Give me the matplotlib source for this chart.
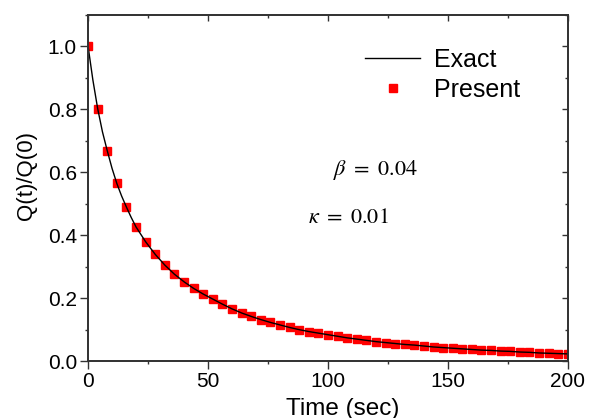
import matplotlib
matplotlib.use("Agg")
import matplotlib.pyplot as plt
from matplotlib.ticker import MultipleLocator, NullFormatter, FormatStrFormatter

plt.rcParams['font.family'] = ['Liberation Sans', 'DejaVu Sans']
plt.rcParams['mathtext.fontset'] = 'stix'

# exact solution, read at a finer step near t = 0
t_exact = [0, 2, 4, 6, 8, 10, 12, 14, 16, 18, 20, 24, 28, 32, 36, 40, 44, 48,
           52, 56, 60, 64, 68, 72, 76, 80, 84, 88, 92, 96, 100, 104, 108, 112,
           116, 120, 124, 128, 132, 136, 140, 144, 148, 152, 156, 160, 164,
           168, 172, 176, 180, 184, 188, 192, 196, 200]
q_exact = [1.000, 0.893, 0.802, 0.728, 0.668, 0.612, 0.564, 0.524, 0.489,
           0.456, 0.426, 0.379, 0.339, 0.305, 0.276, 0.252, 0.231, 0.213,
           0.197, 0.181, 0.166, 0.153, 0.142, 0.132, 0.123, 0.115, 0.107,
           0.100, 0.094, 0.089, 0.084, 0.079, 0.074, 0.070, 0.066, 0.062,
           0.059, 0.056, 0.053, 0.051, 0.048, 0.045, 0.043, 0.041, 0.039,
           0.037, 0.035, 0.034, 0.032, 0.031, 0.029, 0.028, 0.026, 0.025,
           0.024, 0.023]

# present method, every 4 s
t_present = [0, 4, 8, 12, 16, 20, 24, 28, 32, 36, 40, 44, 48, 52, 56, 60, 64,
             68, 72, 76, 80, 84, 88, 92, 96, 100, 104, 108, 112, 116, 120, 124,
             128, 132, 136, 140, 144, 148, 152, 156, 160, 164, 168, 172, 176,
             180, 184, 188, 192, 196, 200]
q_present = [1.000, 0.802, 0.668, 0.564, 0.489, 0.426, 0.379, 0.339, 0.305,
             0.276, 0.252, 0.231, 0.213, 0.197, 0.181, 0.166, 0.153, 0.142,
             0.132, 0.123, 0.115, 0.107, 0.100, 0.094, 0.089, 0.084, 0.079,
             0.074, 0.070, 0.066, 0.062, 0.059, 0.056, 0.053, 0.051, 0.048,
             0.045, 0.043, 0.041, 0.039, 0.037, 0.035, 0.034, 0.032, 0.031,
             0.029, 0.028, 0.026, 0.025, 0.024, 0.023]

spine_col = '#333333'

fig = plt.figure(figsize=(5.99, 4.18), dpi=100)
ax = fig.add_axes([0.147, 0.136, 0.801, 0.829])

ax.plot(t_exact, q_exact, color='black', lw=1.0, label='Exact', zorder=3)
ax.plot(t_present, q_present, ls='none', marker='s', ms=6, color='red',
        mec='red', label='Present', zorder=2)

ax.set_xlim(0, 200)
ax.set_ylim(0, 1.1)
ax.xaxis.set_major_locator(MultipleLocator(50))
ax.xaxis.set_minor_locator(MultipleLocator(25))
ax.yaxis.set_major_locator(MultipleLocator(0.2))
ax.yaxis.set_minor_locator(MultipleLocator(0.1))
ax.yaxis.set_major_formatter(FormatStrFormatter('%.1f'))
ax.tick_params(which='both', direction='out', color=spine_col, width=1.0,
               labelsize=15, pad=2)
ax.tick_params(which='major', length=6)
ax.tick_params(which='minor', length=2.5)
for s in ax.spines.values():
    s.set_color(spine_col)
    s.set_linewidth(1.1)

# top and right axes carry inward ticks without labels
axt = ax.twiny()
axt.set_xlim(ax.get_xlim())
axt.xaxis.set_major_locator(MultipleLocator(50))
axt.xaxis.set_minor_locator(MultipleLocator(25))
axt.xaxis.set_major_formatter(NullFormatter())
axt.tick_params(axis='x', which='both', direction='in', color=spine_col, width=1.0)
axt.tick_params(axis='x', which='major', length=4.5)
axt.tick_params(axis='x', which='minor', length=2.2)

axr = ax.twinx()
axr.set_ylim(ax.get_ylim())
axr.yaxis.set_major_locator(MultipleLocator(0.2))
axr.yaxis.set_minor_locator(MultipleLocator(0.1))
axr.yaxis.set_major_formatter(NullFormatter())
axr.tick_params(axis='y', which='both', direction='in', color=spine_col, width=1.0)
axr.tick_params(axis='y', which='major', length=4.5)
axr.tick_params(axis='y', which='minor', length=2.2)

for a in (axt, axr):
    for s in a.spines.values():
        s.set_color(spine_col)
        s.set_linewidth(1.1)

ax.set_xlabel('Time (sec)', fontsize=17.5)
ax.set_ylabel('Q(t)/Q(0)', fontsize=16)
ax.xaxis.set_label_coords(0.531, -0.105)
ax.yaxis.set_label_coords(-0.107, 0.535)

ax.text(102.1, 0.606, r'$\beta\ =\ 0.04$', fontsize=16, ha='left', va='center')
ax.text(91.7, 0.457, r'$\kappa\ =\ 0.01$', fontsize=16, ha='left', va='center')

ax.legend(loc='upper left', bbox_to_anchor=(0.578, 0.905), frameon=False,
          fontsize=18, handlelength=2.2, handletextpad=0.55, labelspacing=0.25,
          borderpad=0, borderaxespad=0)

fig.savefig('out.png', dpi=100)
